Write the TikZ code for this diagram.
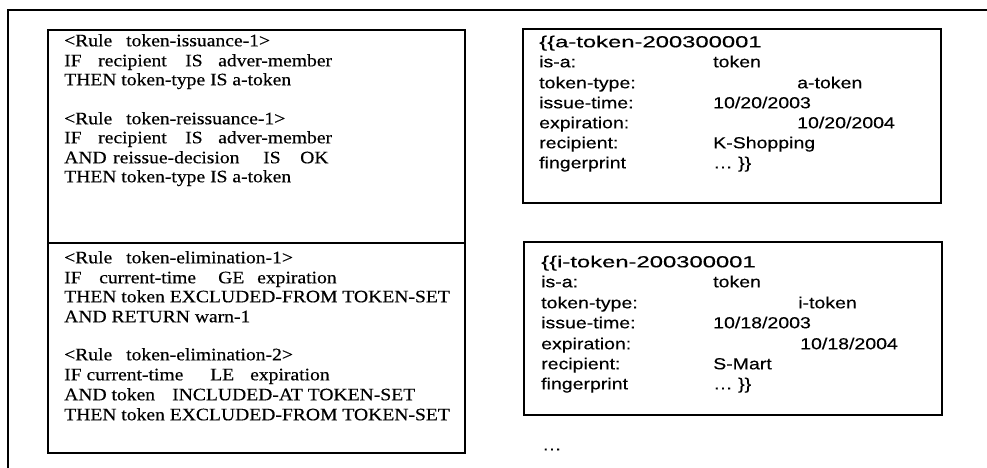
\documentclass[tikz,border=0pt]{standalone}
\usepackage{fontspec}
\setmainfont{Liberation Serif}[FakeStretch=1.12,FakeBold=0.4]
\newfontfamily\framefont{Liberation Sans}[FakeStretch=1.22,FakeBold=0.3]
\begin{document}
\begin{tikzpicture}[x=1pt,y=-1pt,
  frame/.style={line width=1.7pt},
  boxline/.style={line width=1.6pt},
  lt/.style={anchor=mid west,inner sep=0pt,font=\fontsize{17.5}{20}\selectfont},
  rt/.style={anchor=mid west,inner sep=0pt,font=\framefont\fontsize{16}{20}\selectfont}]
\useasboundingbox (0,0) rectangle (987,468);

% outer frame, open to the right and bottom
\draw[frame] (8,468) -- (8,10) -- (987,10);

% rule table
\draw[boxline] (48,30) rectangle (465,453);
\draw[boxline] (48,243) -- (465,243);

% issuance rules
\node[lt] (a1) at (64,44) {<Rule};
\node[lt] (a1b) at (126,44) {token-issuance-1>};
\node[lt] (a2) at (64,64) {IF};
\node[lt] (a2b) at (98,64) {recipient};
\node[lt] (a2c) at (185,64) {IS};
\node[lt] (a2d) at (218,64) {adver-member};
\node[lt] (a3) at (64,83) {THEN token-type IS a-token};

\node[lt] (b1) at (64,122) {<Rule};
\node[lt] (b1b) at (126,122) {token-reissuance-1>};
\node[lt] (b2) at (64,141) {IF};
\node[lt] (b2b) at (98,141) {recipient};
\node[lt] (b2c) at (185,141) {IS};
\node[lt] (b2d) at (218,141) {adver-member};
\node[lt] (b3) at (64,161) {AND};
\node[lt] (b3b) at (113,161) {reissue-decision};
\node[lt] (b3c) at (263,161) {IS};
\node[lt] (b3d) at (300,161) {OK};
\node[lt] (b4) at (64,180) {THEN token-type IS a-token};

% elimination rules
\node[lt] (c1) at (64,261) {<Rule};
\node[lt] (c1b) at (126,261) {token-elimination-1>};
\node[lt] (c2) at (64,281) {IF};
\node[lt] (c2b) at (99,281) {current-time};
\node[lt] (c2c) at (218,281) {GE};
\node[lt] (c2d) at (257,281) {expiration};
\node[lt] (c3) at (64,300) {THEN token EXCLUDED-FROM TOKEN-SET};
\node[lt] (c4) at (64,320) {AND RETURN warn-1};

\node[lt] (d1) at (64,358) {<Rule};
\node[lt] (d1b) at (126,358) {token-elimination-2>};
\node[lt] (d2) at (64,378) {IF current-time};
\node[lt] (d2b) at (210,378) {LE};
\node[lt] (d2c) at (250,378) {expiration};
\node[lt] (d3) at (64,398) {AND token};
\node[lt] (d3b) at (172,398) {INCLUDED-AT TOKEN-SET};
\node[lt] (d4) at (64,418) {THEN token EXCLUDED-FROM TOKEN-SET};

% token frames
\draw[boxline] (523,29) rectangle (941,203);
\draw[boxline] (524,242) rectangle (942,415);

\node[rt] (e0) at (539,45) {\scalebox{1.22}[1]{\{\{a-token-200300001}};
\node[rt] (e1) at (539,65) {is-a:};
\node[rt] (e1v) at (713,65) {token};
\node[rt] (e2) at (539,86) {token-type:};
\node[rt] (e2v) at (797,86) {a-token};
\node[rt] (e3) at (539,106) {issue-time:};
\node[rt] (e3v) at (713,106) {10/20/2003};
\node[rt] (e4) at (539,126) {expiration:};
\node[rt] (e4v) at (797,126) {10/20/2004};
\node[rt] (e5) at (539,146) {recipient:};
\node[rt] (e5v) at (713,146) {K-Shopping};
\node[rt] (e6) at (539,166) {fingerprint};
\node[rt] (e6v) at (713,166) {\ldots\ \}\}};

\node[rt] (f0) at (541,265) {\scalebox{1.22}[1]{\{\{i-token-200300001}};
\node[rt] (f1) at (541,285) {is-a:};
\node[rt] (f1v) at (713,285) {token};
\node[rt] (f2) at (541,306) {token-type:};
\node[rt] (f2v) at (798,306) {i-token};
\node[rt] (f3) at (541,326) {issue-time:};
\node[rt] (f3v) at (713,326) {10/18/2003};
\node[rt] (f4) at (541,347) {expiration:};
\node[rt] (f4v) at (800,347) {10/18/2004};
\node[rt] (f5) at (541,367) {recipient:};
\node[rt] (f5v) at (713,367) {S-Mart};
\node[rt] (f6) at (541,387) {fingerprint};
\node[rt] (f6v) at (713,387) {\ldots\ \}\}};

\node[rt] (more) at (542,448) {\ldots};
\end{tikzpicture}
\end{document}
